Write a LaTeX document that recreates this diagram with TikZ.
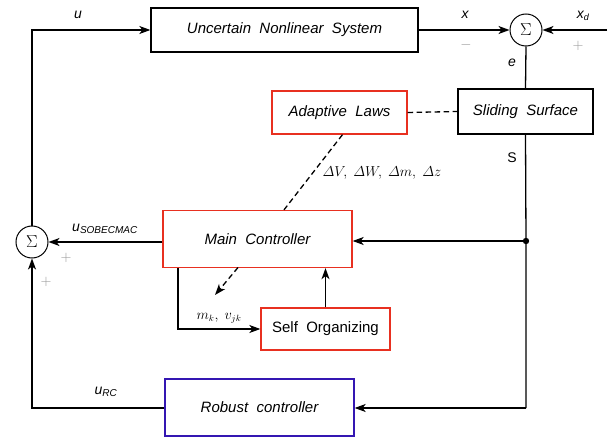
\documentclass[tikz,border=0pt]{standalone}
\usepackage{amsmath}
\usepackage{fontspec}
\setmainfont{Liberation Sans}
\usetikzlibrary{arrows.meta,calc}
\definecolor{boxred}{RGB}{232,48,32}
\definecolor{boxblue}{RGB}{52,22,178}
\definecolor{signgray}{RGB}{150,150,150}
\tikzset{
  blk/.style={draw=black,line width=1.3pt,minimum width=#1,inner sep=0pt,
    font=\fontsize{15}{18}\selectfont\itshape},
  sumnode/.style={draw,circle,line width=1pt,minimum size=32pt,inner sep=0pt,
    font=\fontsize{17}{18}\selectfont},
  wire/.style={line width=1.3pt},
  tip/.style={-{Stealth[length=11pt,width=8pt,inset=3pt]}},
  arr/.style={wire,tip},
  dsh/.style={line width=1.3pt,dash pattern=on 5.5pt off 3.5pt},
  lbl/.style={font=\fontsize{14}{16}\selectfont\itshape,inner sep=0pt},
  sgn/.style={text=signgray,font=\fontsize{15}{16}\selectfont,inner sep=0pt},
  mlbl/.style={font=\fontsize{13.5}{15}\selectfont,inner sep=0pt}
}
\begin{document}
\begin{tikzpicture}[x=1pt,y=-1pt]
\useasboundingbox (0,0) rectangle (616,441);

% blocks
\node[blk=267pt,minimum height=44pt] (sys) at (284.5,30) {Uncertain\ \ Nonlinear\ \ System};
\node[blk=135pt,minimum height=45pt] (slide) at (525.5,111.5) {Sliding\ \ Surface};
\node[blk=135pt,minimum height=43pt,draw=boxred] (adapt) at (339.5,112.5) {Adaptive\ \ Laws};
\node[blk=189pt,minimum height=57pt,draw=boxred] (main) at (257.5,239) {Main\ \ Controller};
\node[blk=129pt,minimum height=42pt,draw=boxred,font=\fontsize{15}{18}\selectfont] (self) at (325.5,329) {Self\ \ Organizing};
\node[blk=189pt,minimum height=57pt,draw=boxblue] (robust) at (259.5,407.5) {Robust\ \ controller};

% summing junctions
\node[sumnode] (sumT) at (526,30) {$\Sigma$};
\node[sumnode] (sumL) at (32,242) {$\Sigma$};

% junction points
\coordinate (xd) at (607,30);
\coordinate (split) at (526,241);
\coordinate (bot) at (526,408);
\coordinate (topL) at (32,30);
\coordinate (botL) at (32,408);
\coordinate (mkout) at (178,267.5);
\coordinate (mkcorner) at (178,329);
\fill (split) circle (3.2pt);

% top loop
\draw[arr] (sys.east) -- (sumT.west);
\draw[arr] (xd) -- (sumT.east);
\draw[wire] (sumT.south) -- (slide.north);
\draw[wire] (slide.south) -- (split) -- (bot);
\draw[arr] (split) -- (split -| main.east);
\draw[arr] (bot) -- (bot -| robust.east);
\draw[dsh] (adapt.east) -- (slide.west);
\draw[dsh] ($(adapt.south)+(3,0)$) -- ($(main.north)+(26.5,0)$);

% control signal paths
\draw[arr] (main.west |- sumL) -- (sumL.east);
\draw[arr] (sumL.north) -- (topL) -- (sys.west);
\draw[arr] (robust.west |- botL) -- (botL) -- (sumL.south);

% self organizing loop
\draw[arr] (mkout) -- (mkcorner) -- (self.west |- mkcorner);
\draw[arr] (self.north) -- (self.north |- main.south);
\draw[dsh,tip] (238,267.5) -- (215,295);

% labels
\node[lbl] at (78,15) {u};
\node[lbl] at (465,15) {x};
\node[lbl] at (583,16) {x\textsubscript{\fontsize{9}{10}\selectfont d}};
\node[lbl] at (512,63) {e};
\node[font=\fontsize{14}{16}\selectfont,inner sep=0pt] at (512,158) {S};
\node[sgn] at (466,45) {$-$};
\node[sgn] at (578,46) {$+$};
\node[sgn] at (66,258) {$+$};
\node[sgn] at (46,282) {$+$};
\node[lbl] at (105,229) {u\textsubscript{\fontsize{10}{11}\selectfont SOBECMAC}};
\node[lbl] at (106,392) {u\textsubscript{\fontsize{10}{11}\selectfont RC}};
\node[mlbl] at (382,173) {$\varDelta V,\ \varDelta W,\ \varDelta m,\ \varDelta z$};
\node[mlbl] at (219,318) {$m_k,\ v_{jk}$};
\end{tikzpicture}
\end{document}
